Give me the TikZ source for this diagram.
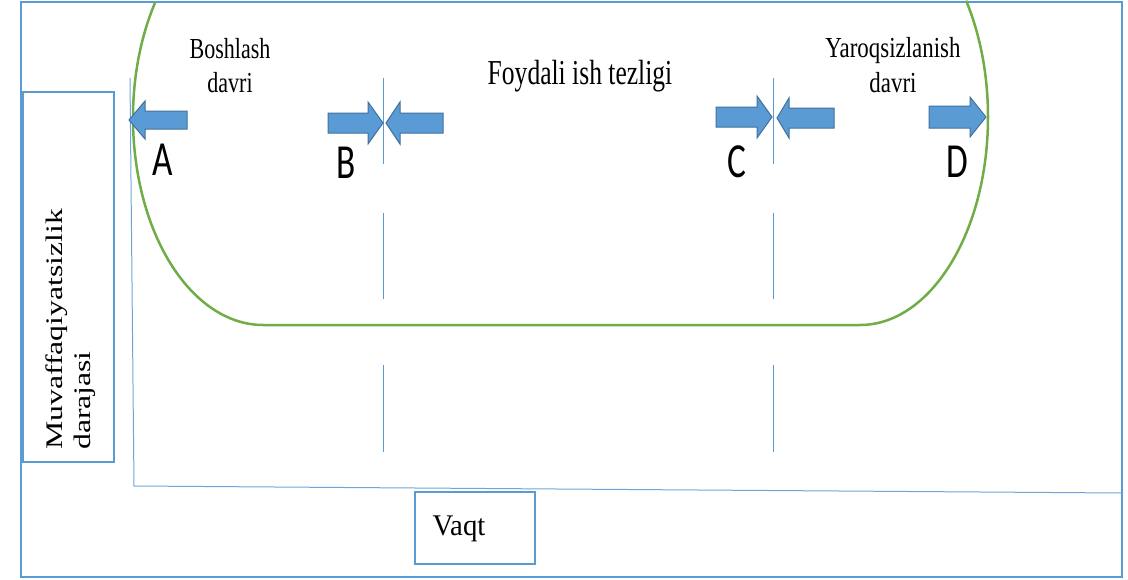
\documentclass[tikz,border=0pt]{standalone}
\usepackage{fontspec}
\usepackage{graphicx}
\setmainfont{Liberation Serif}
\newfontfamily\letterfont{Carlito}
\definecolor{frameblue}{HTML}{5B9BD5}
\definecolor{axisblue}{HTML}{6FA6DA}
\definecolor{arrowfill}{HTML}{5B9BD5}
\definecolor{arrowedge}{HTML}{41719C}
\definecolor{curvegreen}{HTML}{70AD47}
\newcommand\cnd[2]{\scalebox{#1}[1]{#2}}
\newcommand\blockarr[6]{%
  \draw[barrow] (#1,#4-#5) -- (#2,#4-#5) -- (#2,#4-#6) -- (#3,#4) -- (#2,#4+#6) -- (#2,#4+#5) -- (#1,#4+#5) -- cycle;}
\begin{document}
\begin{tikzpicture}[x=1pt,y=-1pt,
  frame/.style={draw=frameblue, line width=2pt},
  box/.style={draw=frameblue, line width=2pt, rectangle, inner sep=0pt},
  axisline/.style={draw=axisblue, line width=1pt},
  divider/.style={draw=frameblue, line width=1pt},
  barrow/.style={fill=arrowfill, draw=arrowedge, line width=1pt, line join=miter},
  curve/.style={draw=curvegreen, line width=2.5pt},
  lbl/.style={inner sep=0pt, anchor=base, align=center},
  letr/.style={inner sep=0pt, anchor=base, font=\letterfont\fontsize{49}{49}\selectfont}]
\useasboundingbox (0,0) rectangle (1128,579);
\fill[white] (0,0) rectangle (1128,579);
% outer frame
\draw[frame] (21,2) rectangle (1122,577);
% bathtub curve
\draw[curve] (263,118) ++(214:130 and 207) arc[start angle=214, end angle=90, x radius=130, y radius=207]
  -- (860,325) arc[start angle=90, end angle=-34, x radius=128, y radius=208];
% axes
\coordinate (ytop) at (130,78);
\coordinate (origin) at (134,486);
\coordinate (xend) at (1122,493);
\draw[axisline] (ytop) -- (origin) -- (xend);
% dividers
\draw[divider] (383,78) -- (383,164) (383,213) -- (383,299) (383,365) -- (383,452);
\draw[divider] (773,78) -- (773,164) (773,213) -- (773,299) (773,365) -- (773,452);
% block arrows
\blockarr{187}{145}{129}{120}{9}{19}
\blockarr{328}{368}{383}{123}{10}{21}
\blockarr{443}{400}{386}{123}{10}{21}
\blockarr{716}{757}{772}{117}{10}{21}
\blockarr{834}{789}{777}{118}{10}{20}
\blockarr{929}{970}{986}{117}{11}{20}
% labels (base anchor = baseline of last line)
\node[lbl, font=\fontsize{29}{34}\selectfont] (boshlash) at (230,92) {\cnd{0.76}{Boshlash}\\\cnd{0.76}{davri}};
\node[lbl, font=\fontsize{35}{40}\selectfont] (foydali) at (580,84) {\cnd{0.73}{Foydali ish tezligi}};
\node[lbl, font=\fontsize{29}{35}\selectfont] (yaroq) at (893,92) {\cnd{0.79}{Yaroqsizlanish}\\\cnd{0.79}{davri}};
\node[letr] (A) at (163,175) {\cnd{0.72}{A}};
\node[letr] (B) at (346,178) {\cnd{0.72}{B}};
\node[letr] (C) at (737,177) {\cnd{0.72}{C}};
\node[letr] (D) at (957,177) {\cnd{0.72}{D}};
% axis label boxes
\node[box, minimum width=91pt, minimum height=370pt] (ybox) at (68.5,277) {};
\node[box, minimum width=120pt, minimum height=72pt] (xbox) at (475,528) {};
\node[inner sep=0pt, anchor=south west] (ylabel) at (42.7,450)
  {\fontsize{31.7}{37}\selectfont\rotatebox{90}{\scalebox{1}[0.75]{\begin{tabular}{@{}l@{}}Muvaffaqiyatsizlik\\darajasi\end{tabular}}}};
\node[lbl, font=\fontsize{30}{35}\selectfont] (vaqt) at (459,535) {\cnd{0.96}{Vaqt}};
\end{tikzpicture}
\end{document}
